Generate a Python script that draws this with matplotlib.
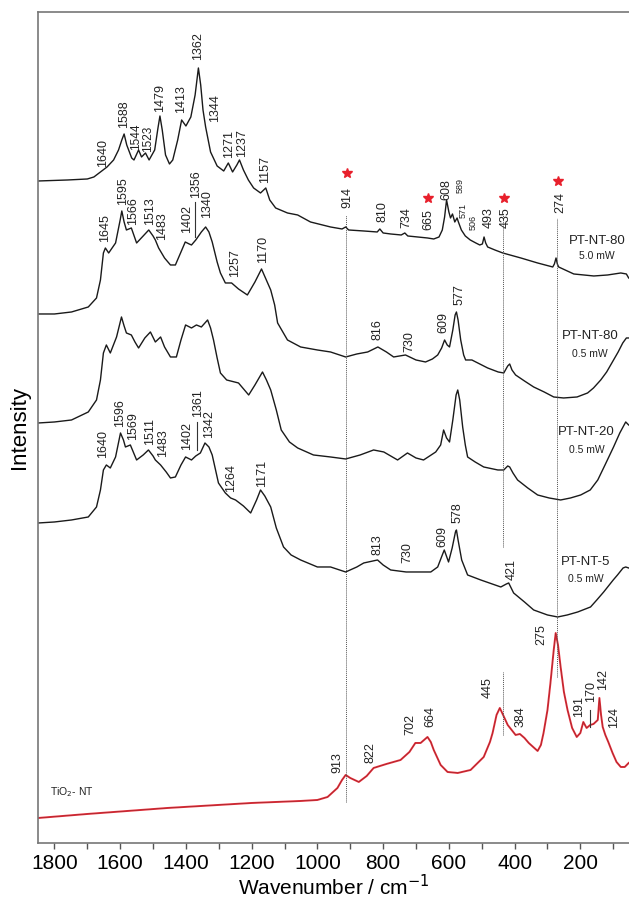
import matplotlib

matplotlib.use("Agg")
import matplotlib.pyplot as plt
from matplotlib.ticker import MultipleLocator

plt.rcParams["font.family"] = ["Liberation Sans", "DejaVu Sans"]

# wavenumber (cm-1) / intensity (a.u.)
pt80_hi_w = [1849, 1760, 1700, 1680, 1660, 1640, 1620, 1605, 1595, 1588, 1580, 1565, 1558, 1544,
             1535, 1523, 1512, 1495, 1485, 1479, 1472, 1462, 1450, 1440, 1425, 1413, 1400, 1385,
             1372, 1362, 1355, 1348, 1340, 1325, 1305, 1285, 1271, 1258, 1245, 1237, 1225, 1210,
             1194, 1173, 1157, 1145, 1127, 1091, 1060, 1021, 960, 925, 914, 905, 859, 818, 810,
             800, 777, 745, 734, 725, 695, 665, 646, 630, 620, 613, 607, 600, 595, 589, 582, 575,
             571, 562, 550, 535, 518, 506, 498, 493, 488, 482, 460, 436, 381, 330, 284, 279, 274,
             270, 266, 220, 159, 117, 77, 60, 53]
pt80_hi_i = [662, 663, 664, 666, 671, 676, 683, 693, 703, 709, 698, 685, 683, 693,
             686, 690, 683, 693, 715, 727, 713, 688, 679, 683, 703, 723, 717, 726,
             748, 775, 758, 733, 716, 691, 677, 672, 680, 671, 678, 683, 673, 663,
             655, 650, 655, 643, 635, 630, 628, 621, 616, 614, 616, 613, 612, 611, 614,
             610, 609, 608, 610, 607, 606, 605, 604, 606, 613, 626, 643, 631, 625, 629, 621, 625,
             621, 613, 607, 603, 600, 598, 599, 606, 600, 596, 593, 590, 585, 580, 576, 579, 585,
             579, 576, 569, 567, 568, 570, 569, 565]

pt80_lo_w = [1849, 1800, 1748, 1697, 1672, 1660, 1651, 1645, 1635, 1614, 1600, 1595, 1588, 1581,
             1566, 1550, 1530, 1513, 1500, 1493, 1483, 1465, 1447, 1432, 1415, 1402, 1390, 1383,
             1370, 1353, 1340, 1330, 1320, 1305, 1295, 1280, 1261, 1240, 1213, 1190, 1170, 1158,
             1142, 1130, 1121, 1091, 1051, 1000, 960, 914, 880, 847, 816, 790, 768, 732, 700, 671,
             650, 634, 622, 613, 605, 598, 588, 581, 577, 572, 564, 555, 549, 530, 512, 482, 450,
             433, 421, 415, 408, 397, 370, 342, 310, 281, 251, 210, 178, 160, 138, 120, 99, 85,
             71, 60, 53]
pt80_lo_i = [529, 529, 531, 536, 545, 563, 590, 595, 590, 600, 623, 632, 621, 613,
             615, 600, 607, 613, 607, 603, 595, 585, 578, 578, 591, 601, 599, 598,
             603, 611, 616, 611, 601, 581, 570, 560, 560, 554, 548, 561, 574, 565,
             553, 538, 520, 503, 496, 493, 491, 486, 489, 491, 496, 491, 486, 488, 483, 481,
             484, 488, 495, 503, 498, 496, 513, 528, 531, 523, 503, 488, 483, 483, 480, 475, 471,
             470, 477, 479, 473, 468, 462, 456, 451, 446, 445, 446, 450, 455, 463, 471, 483, 491,
             500, 505, 505]

pt20_w = [1849, 1800, 1748, 1697, 1672, 1660, 1651, 1642, 1630, 1611, 1596, 1588, 1581, 1566,
          1555, 1544, 1525, 1508, 1493, 1477, 1465, 1447, 1429, 1415, 1401, 1383, 1368, 1353,
          1334, 1325, 1316, 1305, 1295, 1276, 1240, 1209, 1190, 1167, 1155, 1142, 1125, 1110,
          1085, 1060, 1012, 960, 914, 870, 829, 798, 756, 726, 700, 677, 640, 625, 616, 607,
          598, 588, 578, 573, 567, 558, 550, 543, 520, 494, 451, 433, 421, 415, 405, 391, 360,
          330, 295, 260, 230, 199, 170, 147, 125, 99, 80, 62, 53]
pt20_i = [420, 421, 423, 431, 443, 463, 490, 498, 490, 506, 526, 517, 510, 508,
          501, 495, 505, 511, 501, 506, 496, 486, 486, 503, 518, 515, 518, 516,
          523, 515, 503, 485, 470, 463, 460, 448, 458, 471, 463, 453, 433, 413,
          401, 395, 388, 386, 384, 388, 393, 391, 383, 390, 385, 383, 391, 398, 413, 405,
          401, 423, 448, 453, 443, 416, 398, 386, 381, 376, 373, 373, 377, 376, 370, 363, 355,
          348, 345, 343, 345, 348, 353, 363, 378, 396, 410, 421, 418]

pt5_w = [1849, 1800, 1748, 1697, 1672, 1660, 1651, 1642, 1630, 1614, 1599, 1590, 1584, 1569,
         1550, 1530, 1514, 1500, 1493, 1477, 1460, 1447, 1432, 1415, 1401, 1383, 1370, 1356,
         1342, 1330, 1320, 1301, 1280, 1264, 1249, 1225, 1203, 1185, 1173, 1160, 1142, 1125,
         1103, 1080, 1051, 1000, 960, 914, 880, 859, 817, 800, 777, 730, 700, 655, 634, 620,
         614, 601, 590, 580, 577, 572, 561, 543, 503, 442, 425, 418, 403, 370, 342, 300, 269,
         240, 208, 169, 150, 129, 100, 87, 70, 62, 53]
pt5_i = [320, 321, 323, 326, 336, 353, 373, 378, 375, 386, 410, 403, 396, 398,
         383, 388, 393, 387, 383, 378, 371, 365, 366, 378, 386, 383, 387, 390,
         400, 396, 388, 360, 350, 345, 343, 337, 330, 343, 353, 347, 336, 315,
         296, 288, 283, 276, 276, 271, 276, 280, 283, 278, 273, 271, 271, 271, 276, 288,
         293, 281, 295, 311, 313, 303, 283, 268, 263, 256, 259, 260, 250, 241, 233, 228, 226,
         228, 231, 236, 243, 251, 263, 268, 275, 276, 275]

tio2_w = [1849, 1700, 1456, 1200, 1051, 1000, 969, 939, 925, 914, 900, 874, 850, 829, 790,
          747, 720, 702, 686, 665, 655, 646, 625, 604, 573, 534, 494, 475, 467, 455, 445, 435,
          421, 397, 384, 370, 357, 330, 320, 312, 300, 291, 281, 275, 268, 260, 250, 239, 225,
          211, 200, 191, 181, 170, 160, 147, 142, 137, 132, 124, 115, 102, 90, 77, 65, 53]
tio2_i = [25, 29, 35, 40, 42, 43, 46, 55, 63, 68, 65, 61, 67, 75, 79,
          83, 91, 100, 100, 106, 101, 93, 78, 71, 70, 73, 86, 101, 110, 128, 135, 128,
          118, 108, 109, 105, 100, 92, 98, 110, 133, 160, 193, 210, 198, 176, 151, 133, 115,
          106, 110, 121, 115, 118, 119, 123, 145, 128, 116, 108, 101, 90, 81, 76, 76, 80]

# peak labels: text, wavenumber, intensity at the label foot
peaks_top = [("1640", 1651, 676), ("1588", 1587, 715), ("1544", 1551, 693), ("1523", 1514, 691),
             ("1479", 1480, 731), ("1413", 1416, 730), ("1362", 1362, 783), ("1344", 1310, 721),
             ("1271", 1270, 685), ("1237", 1228, 686), ("1157", 1158, 660), ("914", 908, 635),
             ("810", 802, 621), ("734", 729, 615), ("665", 662, 613), ("608", 607, 643),
             ("493", 479, 615), ("435", 427, 615), ("274", 260, 630)]
peaks_top_small = [("589", 565, 650), ("571", 556, 625), ("506", 525, 613)]
peaks_pt80 = [("1645", 1645, 601), ("1595", 1590, 638), ("1566", 1560, 618), ("1513", 1508, 618),
              ("1483", 1474, 603), ("1402", 1398, 610), ("1356", 1368, 645), ("1340", 1337, 625),
              ("1257", 1249, 566), ("1170", 1164, 580), ("816", 817, 503), ("730", 719, 491),
              ("609", 616, 510), ("577", 567, 538)]
peaks_pt5 = [("1640", 1651, 385), ("1596", 1599, 416), ("1569", 1560, 403), ("1511", 1508, 398),
             ("1483", 1471, 386), ("1402", 1398, 393), ("1361", 1362, 426), ("1342", 1331, 405),
             ("1264", 1264, 351), ("1171", 1167, 356), ("813", 817, 288), ("730", 725, 280),
             ("609", 619, 296), ("578", 573, 320), ("421", 409, 263)]
peaks_tio2 = [("913", 939, 70), ("822", 838, 80), ("702", 716, 108), ("664", 655, 116),
              ("445", 482, 145), ("384", 381, 116), ("275", 318, 198), ("191", 205, 126),
              ("170", 168, 141), ("142", 132, 153), ("124", 98, 115)]
# short leader lines from label to peak: wavenumber, intensity from, intensity to
leaders = [(1371, 606, 641), (1365, 393, 421), (171, 116, 133)]

# anatase bands marked with a red star
star_w = [911, 665, 433, 269]
star_i = [670, 645, 645, 662]

# dotted guide lines: wavenumber, top, bottom
guides = [(914, 628, 41), (436, 630, 296), (436, 171, 108), (272, 625, 166)]

samples = [("PT-NT-80", "5.0 mW", 150, 602, 587), ("PT-NT-80", "0.5 mW", 171, 507, 489),
           ("PT-NT-20", "0.5 mW", 181, 411, 393), ("PT-NT-5", "0.5 mW", 184, 281, 264)]

fig = plt.figure(figsize=(6.29, 9.01), dpi=100)
ax = fig.add_axes([0.0604, 0.0644, 0.9396, 0.9223])

for xs, ys in [(pt80_hi_w, pt80_hi_i), (pt80_lo_w, pt80_lo_i), (pt20_w, pt20_i), (pt5_w, pt5_i)]:
    ax.plot(xs, ys, color="#1a1a1a", lw=1.0)
ax.plot(tio2_w, tio2_i, color="#e8303c", lw=1.4)
ax.plot(tio2_w, tio2_i, color="#602020", lw=0.4, alpha=0.6)

for w, top, bottom in guides:
    ax.plot([w, w], [bottom, top], color="#555555", lw=0.7, ls=(0, (1, 1)))

for txt, w, y in peaks_top + peaks_pt80 + peaks_pt5 + peaks_tio2:
    size = 8.5 if txt in ("1544", "1523") else 9
    ax.text(w, y, txt, rotation=90, ha="center", va="bottom", fontsize=size, color="#222222")
for txt, w, y in peaks_top_small:
    ax.text(w, y, txt, rotation=90, ha="center", va="bottom", fontsize=6.5, color="#222222")
for w, y0, y1 in leaders:
    ax.plot([w, w], [y0, y1], color="#333333", lw=0.8)

ax.plot(star_w, star_i, ls="none", marker="*", color="#e8202c", markersize=7)

for name, power, w, y_name, y_power in samples:
    ax.text(w, y_name, name, ha="center", va="center", fontsize=9.5, color="#222222")
    ax.text(w, y_power, power, ha="center", va="center", fontsize=7.5, color="#222222")
ax.text(1812, 51, "TiO$_2$- NT", ha="left", va="center", fontsize=7.5, color="#222222")

ax.set_xlim(1850, 52)
ax.set_ylim(0, 831)
ax.xaxis.set_major_locator(MultipleLocator(200))
ax.xaxis.set_minor_locator(MultipleLocator(100))
ax.tick_params(axis="x", which="both", direction="out", length=4, width=1, color="#555555",
               labelsize=15, pad=4)
ax.set_yticks([])
for side in ["left", "top", "bottom"]:
    ax.spines[side].set_color("#777777")
    ax.spines[side].set_linewidth(1.2)
ax.spines["right"].set_visible(False)

ax.set_xlabel("Wavenumber / cm$^{-1}$", fontsize=15, labelpad=1)
ax.set_ylabel("Intensity", fontsize=16, labelpad=6)

fig.savefig("out.png", dpi=100)
